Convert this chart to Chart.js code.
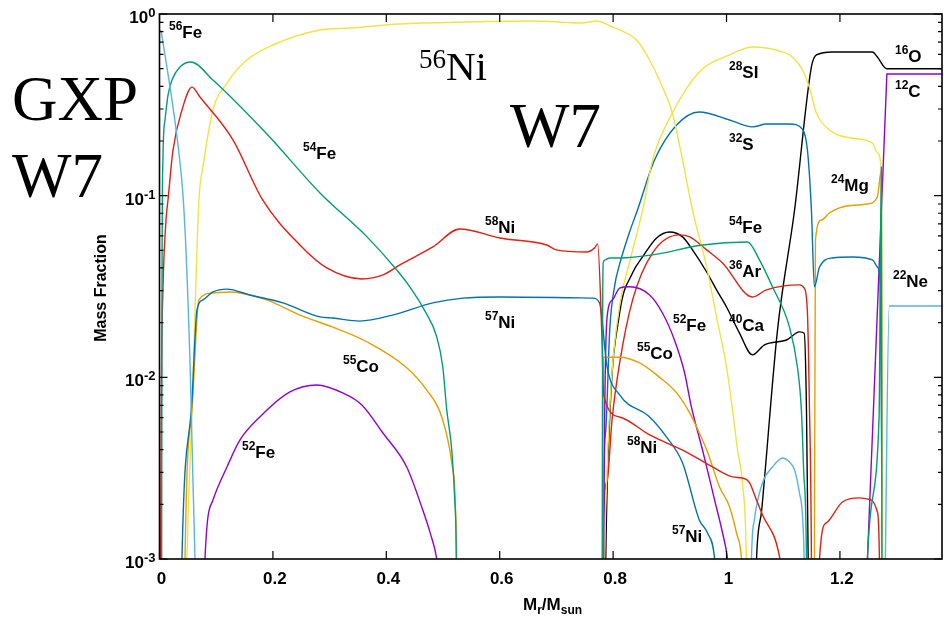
<!DOCTYPE html>
<html>
<head>
<meta charset="utf-8">
<script src="https://cdn.jsdelivr.net/npm/chart.js@4.4.0/dist/chart.umd.min.js"></script>
<style>
  body { margin: 0; background: #fff; }
  canvas { display: block; }
</style>
</head>
<body>
<canvas id="myChart" width="944" height="619"></canvas>
<script>
// W7 model abundances: [M_r / M_sun, mass fraction]
// values under 1e-3 only carry the lines down past the bottom axis
const fe56 = [[0.0026,0.817],[0.022,0.336],[0.0326,0.19],[0.0414,0.101],[0.0467,0.0503],[0.0502,0.0267],[0.0537,0.0125],[0.0555,0.0075],[0.059,0.0027],[0.0626,0.001],[0.066,0.0003]];

const fe54 = [[0.0035,0.0001],[0.0038,0.001],[0.0044,0.0267],[0.006,0.157],[0.0097,0.261],[0.015,0.358],[0.022,0.433],[0.036,0.511],[0.0555,0.544],[0.0943,0.433],[0.189,0.219],[0.283,0.1035],[0.3656,0.0595],[0.4185,0.039],[0.4414,0.0315],[0.467,0.0235],[0.489,0.0167],[0.4996,0.0114],[0.5066,0.00662],[0.5154,0.00398],[0.5207,0.00211],[0.5234,0.001],[0.525,0.0001],
  [0.78,0.0001],[0.7808,0.001],[0.7815,0.02],[0.7825,0.0426],[0.786,0.0443],[0.794,0.0454],[0.8115,0.0454],[0.8696,0.0472],[0.9577,0.0535],[1.037,0.0556],[1.058,0.0443],[1.081,0.0315],[1.111,0.0189],[1.125,0.0114],[1.132,0.00662],[1.136,0.00309],[1.141,0.001],[1.143,0.0001],
  [1.245,0.0001],[1.2485,0.001],[1.269,0.006],[1.273,0.144],[1.2745,0.0001]];

const ni58 = [[0.0005,0.0001],[0.002,0.001],[0.0035,0.01],[0.006,0.03],[0.0115,0.0735],[0.015,0.0947],[0.0238,0.178],[0.0396,0.296],[0.0573,0.396],[0.0714,0.349],[0.1295,0.203],[0.182,0.0947],[0.2476,0.0535],[0.295,0.04],[0.3568,0.0348],[0.394,0.0366],[0.424,0.0416],[0.482,0.0522],[0.5295,0.0656],[0.6,0.0585],[0.6828,0.0535],[0.7,0.0503],[0.753,0.049],[0.7674,0.0516],[0.7727,0.0543],
  [0.78,0.0175],[0.7833,0.008],[0.8115,0.00605],[0.8643,0.00482],[0.9295,0.00388],[0.9753,0.00321],[1.0106,0.00283],[1.028,0.00279],[1.04,0.00265],[1.0529,0.00211],[1.0634,0.00175],[1.0934,0.00103],[1.11,0.0004]];

const ni57 = [[0.035,0.0001],[0.0396,0.001],[0.0573,0.0075],[0.0661,0.0235],[0.0767,0.0267],[0.0943,0.0295],[0.119,0.0306],[0.159,0.0284],[0.2176,0.0257],[0.283,0.0215],[0.3057,0.0212],[0.353,0.0204],[0.411,0.022],[0.482,0.0257],[0.535,0.0273],[0.6,0.0277],[0.764,0.0273],[0.776,0.0257],
  [0.7894,0.0114],[0.8115,0.008],[0.8643,0.00605],[0.894,0.0047],[0.9225,0.00338],[0.952,0.00164],[0.9665,0.00139],[0.979,0.001],[0.985,0.0005],[0.991,0.0002]];

const co55 = [[0.042,0.0001],[0.045,0.001],[0.0585,0.0075],[0.0696,0.0267],[0.0943,0.0291],[0.124,0.0295],[0.189,0.0267],[0.2476,0.022],[0.3057,0.0189],[0.3656,0.0157],[0.436,0.0113],[0.471,0.00853],[0.4978,0.00605],[0.5154,0.00338],[0.524,0.001],[0.526,0.0001],
  [0.779,0.0001],[0.7815,0.001],[0.7825,0.0129],[0.8115,0.0129],[0.8467,0.012],[0.882,0.01],[0.912,0.00821],[0.935,0.00637],[0.952,0.00494],[0.9665,0.00388],[0.9877,0.00249],[1.0053,0.00194],[1.0176,0.00139],[1.0264,0.001],[1.031,0.0005],[1.036,0.0002]];

const fe52 = [[0.075,0.0001],[0.0802,0.001],[0.0943,0.00211],[0.119,0.00321],[0.142,0.00452],[0.177,0.00605],[0.23,0.00831],[0.2775,0.00908],[0.323,0.00821],[0.3568,0.00705],[0.394,0.00494],[0.436,0.00321],[0.4643,0.00186],[0.478,0.00137],[0.489,0.001],[0.497,0.0006],[0.505,0.0003],
  [0.78,0.0002],[0.7833,0.001],[0.785,0.0058],[0.7894,0.0215],[0.799,0.0267],[0.8115,0.031],[0.829,0.0315],[0.8643,0.0284],[0.887,0.0226],[0.908,0.0161],[0.926,0.0106],[0.938,0.00687],[0.9577,0.00398],[0.979,0.00211],[0.993,0.00139],[1.0018,0.001],[1.008,0.0006],[1.014,0.0003]];

const ni56 = [[0.046,0.0003],[0.0485,0.001],[0.0573,0.00662],[0.0696,0.0947],[0.0767,0.144],[0.0943,0.296],[0.119,0.417],[0.154,0.558],[0.2,0.675],[0.283,0.817],[0.3357,0.837],[0.424,0.881],[0.5423,0.904],[0.658,0.915],[0.746,0.892],[0.771,0.915],[0.799,0.848],[0.8115,0.817],[0.8414,0.719],[0.8643,0.558],[0.887,0.396],[0.9044,0.285],[0.9225,0.157],[0.94,0.0834],[0.965,0.0405],[0.9824,0.0215],[1.0,0.0114],[1.0106,0.00662],[1.0194,0.00398],[1.028,0.00262],[1.035,0.001],[1.037,0.0003]];

const si28 = [[0.782,0.0001],[0.785,0.001],[0.7894,0.0031],[0.797,0.0096],[0.8115,0.025],[0.829,0.043],[0.852,0.0834],[0.8696,0.157],[0.9044,0.285],[0.952,0.48],[1.0053,0.595],[1.0458,0.658],[1.099,0.618],[1.1163,0.58],[1.134,0.492],[1.146,0.396],[1.1586,0.285],[1.1815,0.23],[1.222,0.207],[1.2573,0.195],[1.266,0.172],[1.273,0.138],[1.2749,0.001],[1.276,0.0001]];

const s32 = [[0.781,0.0001],[0.7815,0.001],[0.787,0.0051],[0.794,0.0182],[0.803,0.0323],[0.8115,0.042],[0.829,0.0631],[0.843,0.0834],[0.873,0.157],[0.912,0.245],[0.952,0.289],[1.0053,0.261],[1.0458,0.239],[1.0705,0.248],[1.111,0.248],[1.134,0.232],[1.1427,0.178],[1.1497,0.0834],[1.155,0.0315],[1.164,0.0405],[1.187,0.0454],[1.222,0.046],[1.2573,0.0443],[1.266,0.0405],[1.2714,0.0315],[1.2749,0.001],[1.276,0.0001]];

const ar36 = [[0.781,0.0001],[0.7815,0.001],[0.7894,0.0027],[0.798,0.0058],[0.8115,0.012],[0.8344,0.0267],[0.8696,0.0484],[0.917,0.0608],[0.935,0.0593],[0.965,0.0503],[0.993,0.0426],[1.0458,0.0277],[1.0705,0.0303],[1.1286,0.0323],[1.137,0.031],[1.1427,0.0226],[1.146,0.0075],[1.1497,0.001],[1.151,0.0001],
  [1.162,0.0001],[1.164,0.001],[1.176,0.00158],[1.2044,0.00206],[1.2344,0.00217],[1.2555,0.00211],[1.266,0.00182],[1.2696,0.001],[1.271,0.0001]];

const ca40 = [[0.784,0.0001],[0.787,0.001],[0.794,0.006],[0.8115,0.0226],[0.8344,0.0376],[0.852,0.046],[0.8767,0.0585],[0.8996,0.0631],[0.9225,0.0593],[0.94,0.0503],[0.965,0.038],[0.9824,0.0303],[1.0,0.0244],[1.0229,0.0175],[1.0458,0.0133],[1.067,0.0151],[1.1066,0.0161],[1.1286,0.0178],[1.137,0.0175],[1.141,0.00662],[1.144,0.001],[1.146,0.0001]];

const o16 = [[1.045,0.0001],[1.0529,0.001],[1.062,0.00186],[1.0899,0.0182],[1.12,0.0834],[1.1497,0.511],[1.1586,0.595],[1.187,0.618],[1.2573,0.618],[1.266,0.58],[1.2828,0.5],[1.38,0.5]];

const c12 = [[1.244,0.0001],[1.2485,0.001],[1.2828,0.467],[1.38,0.467]];

const mg24 = [[1.153,0.0001],[1.155,0.001],[1.1568,0.057],[1.1674,0.0735],[1.1815,0.0803],[1.2115,0.0877],[1.2485,0.09],[1.266,0.0984],[1.273,0.138],[1.2749,0.001],[1.276,0.0001]];

const ne22 = [[1.04,0.0001],[1.044,0.001],[1.049,0.00164],[1.0634,0.00262],[1.081,0.00321],[1.099,0.0036],[1.111,0.00342],[1.12,0.00309],[1.1286,0.00231],[1.137,0.001],[1.14,0.0001],
  [1.277,0.0001],[1.2802,0.001],[1.287,0.0247],[1.38,0.0247]];

const xTicks = [0, 0.2, 0.4, 0.6, 0.8, 1.0, 1.2];
const xTickLabels = ['0', '0.2', '0.4', '0.6', '0.8', '1', '1.2'];
const yDecades = [1, 0.1, 0.01, 0.001];
const yExponents = ['0', '-1', '-2', '-3'];

// isotope tags: mass number, element, left x, baseline y
const isoTags = [
  ['56', 'Fe', 169, 38],
  ['54', 'Fe', 303, 159],
  ['58', 'Ni', 485, 233],
  ['57', 'Ni', 485, 328],
  ['55', 'Co', 343, 372],
  ['52', 'Fe', 242, 458],
  ['28', 'SI', 729, 78],
  ['32', 'S', 729, 150],
  ['16', 'O', 895, 62],
  ['12', 'C', 895, 97],
  ['24', 'Mg', 831, 191],
  ['54', 'Fe', 729, 233],
  ['36', 'Ar', 729, 277],
  ['40', 'Ca', 729, 331],
  ['52', 'Fe', 673, 331],
  ['55', 'Co', 637, 359],
  ['22', 'Ne', 893, 287],
  ['58', 'Ni', 627, 453],
  ['57', 'Ni', 672, 542]
];

const sans = "'Liberation Sans', Arial, sans-serif";
const serif = "'Liberation Serif', 'Times New Roman', serif";

// name, points, colour, smooth (false = straight segments)
const curves = [
  ['56Fe', fe56, '#56b4e9', true],
  ['54Fe', fe54, '#009e73', true],
  ['58Ni', ni58, '#e51e10', true],
  ['57Ni', ni57, '#0072b2', true],
  ['55Co', co55, '#e69f00', true],
  ['52Fe', fe52, '#9400d3', true],
  ['56Ni', ni56, '#f0e442', true],
  ['28Si', si28, '#f0e442', true],
  ['32S', s32, '#0072b2', true],
  ['36Ar', ar36, '#e51e10', true],
  ['40Ca', ca40, '#000000', true],
  ['24Mg', mg24, '#e69f00', true],
  ['22Ne', ne22, '#56b4e9', true],
  ['12C', c12, '#9400d3', false],
  ['16O', o16, '#000000', true]
];

function supLabel(ctx, sup, main, x, y, supPx, mainPx, rise, family, weight) {
  ctx.font = weight + ' ' + supPx + 'px ' + family;
  ctx.fillText(sup, x, y - rise);
  const w = ctx.measureText(sup).width;
  ctx.font = weight + ' ' + mainPx + 'px ' + family;
  ctx.fillText(main, x + w, y);
}

const frameAndText = {
  id: 'frameAndText',
  afterDatasetsDraw(chart) {
    const ctx = chart.ctx;
    const a = chart.chartArea;
    const xs = chart.scales.x;
    const ys = chart.scales.y;
    ctx.save();

    // inward ticks on all four sides
    ctx.strokeStyle = '#000';
    ctx.lineWidth = 1.2;
    ctx.beginPath();
    xTicks.forEach(v => {
      const p = xs.getPixelForValue(v);
      ctx.moveTo(p, a.bottom); ctx.lineTo(p, a.bottom - 8);
      ctx.moveTo(p, a.top); ctx.lineTo(p, a.top + 8);
    });
    yDecades.forEach(v => {
      const p = ys.getPixelForValue(v);
      ctx.moveTo(a.left, p); ctx.lineTo(a.left + 8, p);
      ctx.moveTo(a.right, p); ctx.lineTo(a.right - 8, p);
      if (v < 1) {
        for (let m = 2; m <= 9; m++) {
          const q = ys.getPixelForValue(v * m);
          ctx.moveTo(a.left, q); ctx.lineTo(a.left + 4, q);
          ctx.moveTo(a.right, q); ctx.lineTo(a.right - 4, q);
        }
      }
    });
    ctx.stroke();

    ctx.lineWidth = 1.6;
    ctx.strokeRect(a.left, a.top, a.right - a.left, a.bottom - a.top);

    ctx.fillStyle = '#000';
    ctx.textBaseline = 'alphabetic';

    // x tick labels
    ctx.textAlign = 'center';
    ctx.font = 'bold 17px ' + sans;
    xTicks.forEach((v, i) => {
      ctx.fillText(xTickLabels[i], xs.getPixelForValue(v) + 2, a.bottom + 25);
    });

    // y tick labels, 10 with exponent
    ctx.textAlign = 'left';
    yDecades.forEach((v, i) => {
      const p = ys.getPixelForValue(v);
      ctx.font = 'bold 13px ' + sans;
      const wSup = ctx.measureText(yExponents[i]).width;
      ctx.font = 'bold 17px ' + sans;
      const wMain = ctx.measureText('10').width;
      const x0 = a.left - 4 - wSup - wMain;
      ctx.fillText('10', x0, p + 9);
      ctx.font = 'bold 13px ' + sans;
      ctx.fillText(yExponents[i], x0 + wMain, p + 3);
    });

    // axis titles
    ctx.save();
    ctx.translate(100, 288);
    ctx.rotate(-Math.PI / 2);
    ctx.textAlign = 'center';
    ctx.font = 'bold 16px ' + sans;
    ctx.fillText('Mass Fraction', 0, 6);
    ctx.restore();

    let tx = 523;
    const ty = 610;
    [['M', 0, 17], ['r', 4, 12], ['/M', 0, 17], ['sun', 4, 12]].forEach(([t, drop, size]) => {
      ctx.font = 'bold ' + size + 'px ' + sans;
      ctx.fillText(t, tx, ty + drop);
      tx += ctx.measureText(t).width;
    });

    // isotope tags
    isoTags.forEach(([sup, el, x, y]) => {
      supLabel(ctx, sup, el, x, y, 12, 17, 8, sans, 'bold');
    });

    // model titles
    supLabel(ctx, '56', 'Ni', 419, 80, 27, 41, 12, serif, 'normal');
    ctx.font = '63px ' + serif;
    ctx.fillText('W7', 510, 147);
    ctx.fillText('GXP', 12, 120);
    ctx.fillText('W7', 12, 197);

    ctx.restore();
  }
};

const ctx = document.getElementById('myChart');

const myChart = new Chart(ctx, {
  type: 'line',
  data: {
    datasets: curves.map(([name, pts, color, smooth]) => ({
      label: name,
      data: pts.map(p => ({ x: p[0], y: p[1] })),
      borderColor: color,
      backgroundColor: color,
      borderWidth: 1.4,
      pointRadius: 0,
      cubicInterpolationMode: smooth ? 'monotone' : 'default',
      tension: 0,
      fill: false
    }))
  },
  options: {
    responsive: false,
    animation: false,
    devicePixelRatio: 1,
    layout: { padding: { left: 159.5, top: 14, right: 2, bottom: 60 } },
    plugins: {
      legend: { display: false },
      tooltip: { enabled: false }
    },
    scales: {
      x: { type: 'linear', min: 0, max: 1.38, display: false },
      y: { type: 'logarithmic', min: 0.001, max: 1, display: false }
    }
  },
  plugins: [frameAndText]
});
</script>
</body>
</html>
